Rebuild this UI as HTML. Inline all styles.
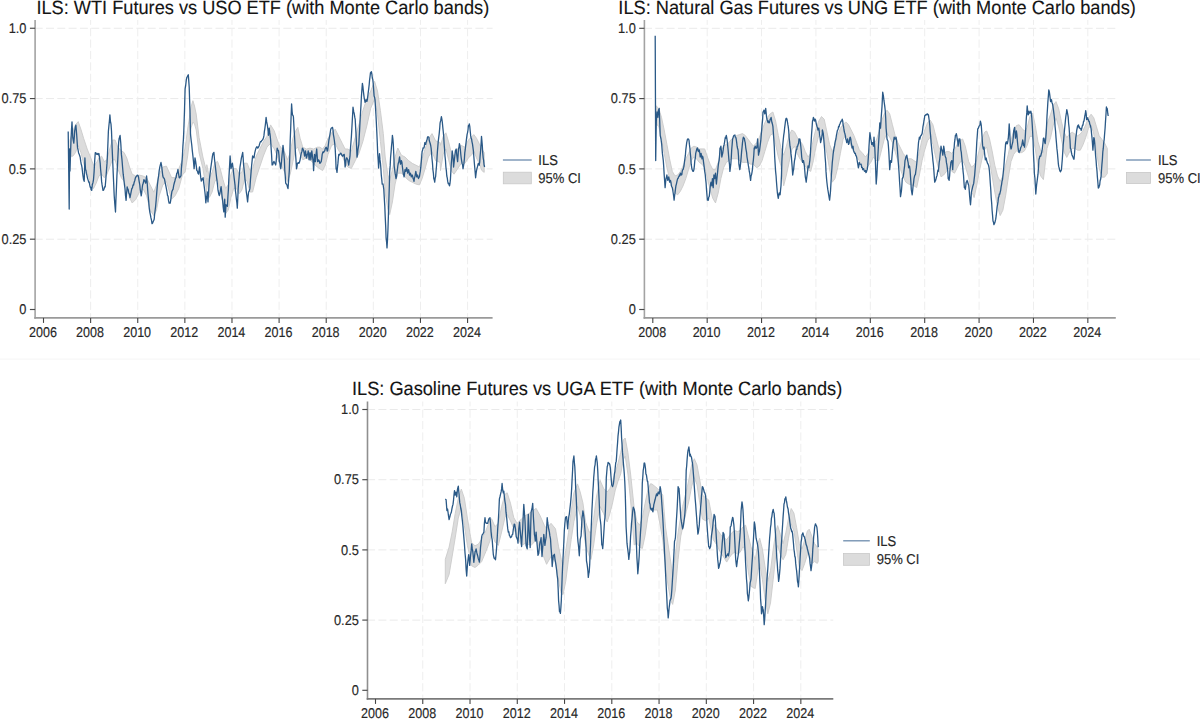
<!DOCTYPE html><html><head><meta charset="utf-8"><style>html,body{margin:0;padding:0;background:#fff;}svg{display:block}</style></head><body>
<svg width="1200" height="722" viewBox="0 0 1200 722" font-family="'Liberation Sans', sans-serif" text-rendering="geometricPrecision">
<rect width="1200" height="722" fill="#fff"/>
<rect x="0" y="358.5" width="1200" height="1.2" fill="#f7f7f7"/>
<g><line x1="36.1" y1="239.19" x2="492.6" y2="239.19" stroke="#eaeaea" stroke-width="1" stroke-dasharray="8 3.3" stroke-dashoffset="1.4"/><line x1="36.1" y1="168.88" x2="492.6" y2="168.88" stroke="#eaeaea" stroke-width="1" stroke-dasharray="8 3.3" stroke-dashoffset="1.4"/><line x1="36.1" y1="98.56" x2="492.6" y2="98.56" stroke="#eaeaea" stroke-width="1" stroke-dasharray="8 3.3" stroke-dashoffset="1.4"/><line x1="36.1" y1="28.25" x2="492.6" y2="28.25" stroke="#eaeaea" stroke-width="1" stroke-dasharray="8 3.3" stroke-dashoffset="1.4"/><line x1="90.62" y1="20.0" x2="90.62" y2="316.9" stroke="#eeeeee" stroke-width="1" stroke-dasharray="8.2 3.2" stroke-dashoffset="3.3"/><line x1="137.74" y1="20.0" x2="137.74" y2="316.9" stroke="#eeeeee" stroke-width="1" stroke-dasharray="8.2 3.2" stroke-dashoffset="3.3"/><line x1="184.86" y1="20.0" x2="184.86" y2="316.9" stroke="#eeeeee" stroke-width="1" stroke-dasharray="8.2 3.2" stroke-dashoffset="3.3"/><line x1="231.98" y1="20.0" x2="231.98" y2="316.9" stroke="#eeeeee" stroke-width="1" stroke-dasharray="8.2 3.2" stroke-dashoffset="3.3"/><line x1="279.10" y1="20.0" x2="279.10" y2="316.9" stroke="#eeeeee" stroke-width="1" stroke-dasharray="8.2 3.2" stroke-dashoffset="3.3"/><line x1="326.22" y1="20.0" x2="326.22" y2="316.9" stroke="#eeeeee" stroke-width="1" stroke-dasharray="8.2 3.2" stroke-dashoffset="3.3"/><line x1="373.34" y1="20.0" x2="373.34" y2="316.9" stroke="#eeeeee" stroke-width="1" stroke-dasharray="8.2 3.2" stroke-dashoffset="3.3"/><line x1="420.46" y1="20.0" x2="420.46" y2="316.9" stroke="#eeeeee" stroke-width="1" stroke-dasharray="8.2 3.2" stroke-dashoffset="3.3"/><line x1="467.58" y1="20.0" x2="467.58" y2="316.9" stroke="#eeeeee" stroke-width="1" stroke-dasharray="8.2 3.2" stroke-dashoffset="3.3"/><polygon points="70.1,140.0 72.8,131.0 75.5,124.7 78.2,121.6 80.9,129.2 83.6,138.2 87.2,149.0 90.8,158.0 93.5,165.2 96.2,163.4 98.9,158.0 101.6,156.2 104.3,161.6 107.0,159.8 109.7,149.0 112.4,140.0 115.1,140.0 117.8,147.2 121.4,150.8 124.1,152.6 126.8,158.0 129.5,167.0 132.2,174.2 135.8,176.0 139.4,175.1 143.0,176.0 146.6,177.8 150.2,185.0 153.8,192.2 156.5,185.0 159.2,174.2 162.8,167.0 166.4,166.1 171.6,177.6 175.2,177.6 178.8,168.6 182.4,160.0 185.1,148.0 187.8,128.0 189.4,118.0 191.0,107.0 192.9,100.7 194.5,106.0 196.2,114.0 199.1,137.5 202.9,157.0 206.7,172.2 206.8,164.7 209.4,177.6 212.1,172.2 214.8,163.2 217.5,161.4 220.2,168.6 222.9,179.4 225.6,188.4 228.3,184.8 231.0,174.0 233.7,168.6 236.4,168.6 239.1,174.0 241.8,172.2 244.5,163.2 247.2,163.2 249.9,170.4 252.6,168.6 256.2,156.0 259.8,148.8 263.4,141.6 267.0,136.2 270.6,124.9 274.2,130.8 276.7,138.2 279.4,145.4 282.1,149.0 284.8,152.6 287.5,159.8 290.2,152.6 292.9,138.2 295.6,131.0 297.8,127.4 300.1,138.2 302.8,147.2 306.4,149.0 310.0,148.1 313.6,149.0 317.2,147.2 319.9,147.2 322.6,149.0 325.3,145.4 328.0,138.2 331.6,132.8 335.2,129.2 338.8,136.4 342.4,143.6 345.1,149.0 347.8,149.0 351.3,151.1 355.2,137.5 359.1,124.0 362.9,110.4 366.8,98.8 370.7,91.0 374.6,81.3 377.5,91.0 380.4,110.4 383.3,133.6 385.2,157.0 387.9,175.0 389.7,180.4 392.4,169.6 395.1,157.0 397.8,148.0 401.4,155.2 405.0,157.0 408.6,160.6 412.2,163.3 415.8,165.1 419.4,166.9 422.1,158.8 424.8,149.8 428.4,139.0 432.0,133.6 435.6,140.8 440.1,142.6 440.5,145.4 443.2,136.4 445.9,132.8 448.6,141.8 451.3,152.6 454.0,156.2 457.6,149.0 461.2,145.4 464.8,147.2 468.4,140.0 472.0,136.4 473.8,134.6 476.5,138.2 479.2,143.6 481.9,149.0 484.2,152.6 484.2,172.4 481.9,170.6 479.2,163.4 476.5,158.0 473.8,150.8 472.0,154.4 468.4,158.0 464.8,163.4 461.2,163.4 457.6,168.8 454.0,174.2 451.3,170.6 448.6,159.8 445.9,149.0 443.2,154.4 440.5,170.6 440.1,162.4 435.6,160.6 432.0,151.6 428.4,157.0 424.8,169.6 422.1,178.6 419.4,184.9 415.8,184.0 412.2,182.2 408.6,180.4 405.0,176.8 401.4,173.2 397.8,173.2 395.1,184.0 392.4,202.0 389.7,214.6 387.9,209.2 385.2,193.0 383.3,168.5 380.4,141.4 377.5,114.3 374.6,98.8 370.7,108.4 366.8,125.9 362.9,141.4 359.1,153.0 355.2,160.8 351.3,168.5 347.8,167.0 345.1,163.4 342.4,156.2 338.8,150.8 335.2,143.6 331.6,145.4 328.0,154.4 325.3,165.2 322.6,170.6 319.9,168.8 317.2,167.0 313.6,163.4 310.0,159.8 306.4,158.0 302.8,159.8 300.1,154.4 297.8,147.2 295.6,149.0 292.9,161.6 290.2,174.2 287.5,181.4 284.8,172.4 282.1,167.0 279.4,163.4 276.7,154.4 274.2,148.8 270.6,143.4 267.0,147.0 263.4,156.0 259.8,166.8 256.2,177.6 252.6,192.0 249.9,192.0 247.2,181.2 244.5,179.4 241.8,190.2 239.1,193.8 236.4,188.4 233.7,188.4 231.0,197.4 228.3,210.0 225.6,213.6 222.9,202.8 220.2,190.2 217.5,179.4 214.8,181.2 212.1,192.0 209.4,197.4 206.8,178.0 206.7,192.0 202.9,168.5 199.1,153.0 196.2,130.0 194.5,124.0 192.9,122.0 191.0,128.0 189.4,141.0 187.8,155.0 185.1,172.0 182.4,175.0 178.8,188.4 175.2,195.6 171.6,199.2 166.4,181.4 162.8,185.0 159.2,195.8 156.5,210.2 153.8,215.6 150.2,210.2 146.6,195.8 143.0,188.6 139.4,192.2 135.8,199.4 132.2,203.0 129.5,197.6 126.8,188.6 124.1,181.4 121.4,177.8 117.8,168.8 115.1,159.8 112.4,159.8 109.7,167.0 107.0,174.2 104.3,177.8 101.6,174.2 98.9,176.0 96.2,183.2 93.5,188.6 90.8,183.2 87.2,172.4 83.6,163.4 80.9,152.6 78.2,145.4 75.5,152.6 72.8,156.2 70.1,156.2" fill="#dcdcdc" stroke="#cbcbcb" stroke-width="0.9"/><polyline points="68.2,131.5 68.7,169.4 69.2,209.0 69.6,148.8 70.0,171.0 70.6,151.5 71.1,137.7 71.5,129.6 72.0,121.8 72.8,137.7 73.3,140.6 73.8,143.2 74.2,138.5 74.7,130.8 75.3,127.5 75.9,125.2 76.7,135.0 77.5,147.4 78.0,149.5 78.6,152.9 79.2,154.3 79.7,155.7 80.2,157.4 80.7,161.2 81.2,164.1 81.6,165.3 82.1,168.2 82.6,172.9 83.0,175.9 83.5,179.2 84.2,181.3 84.9,157.8 85.5,169.6 86.0,170.5 86.4,173.4 86.9,175.1 87.4,177.6 87.8,179.1 88.3,180.6 88.8,182.4 89.2,182.0 89.7,184.8 90.2,187.0 90.6,186.9 91.1,189.6 91.7,190.4 92.3,184.8 92.9,182.9 93.5,179.6 94.1,171.9 94.7,160.8 95.3,152.6 95.9,152.8 96.5,154.1 97.1,154.4 97.7,153.5 98.3,154.7 98.9,153.5 99.5,157.7 100.2,163.4 100.6,169.3 101.1,174.2 101.6,181.4 102.1,184.9 102.6,187.8 103.0,190.4 103.6,190.1 104.1,188.8 104.7,186.7 105.2,186.8 105.8,179.5 106.4,171.4 107.0,163.4 107.5,153.5 108.0,141.4 108.4,131.0 108.9,125.8 109.4,121.1 109.9,114.8 110.4,121.1 111.0,124.1 111.5,131.0 112.1,147.6 112.8,163.4 113.2,172.9 113.7,184.2 114.2,195.8 114.8,203.9 115.5,212.0 115.9,200.0 116.4,188.6 116.9,176.0 117.5,165.0 118.1,153.1 118.7,141.8 119.2,138.2 119.7,137.1 120.1,135.5 120.8,143.5 121.4,154.4 122.0,159.9 122.6,167.5 123.2,174.2 123.8,179.0 124.4,184.3 125.0,188.6 125.5,195.5 126.1,200.3 126.6,193.0 127.2,186.8 127.6,189.3 128.1,189.1 128.6,192.2 129.1,193.7 129.6,194.5 130.0,197.6 130.6,194.7 131.2,191.7 131.8,188.6 132.4,188.1 133.0,185.0 133.6,185.0 134.2,182.2 134.8,180.5 135.4,177.8 136.1,176.7 136.7,176.0 137.3,175.2 137.9,175.3 138.5,176.9 139.1,181.1 139.8,185.0 140.2,189.3 140.7,192.1 141.2,195.8 141.7,192.9 142.2,188.0 142.6,185.0 143.3,183.0 143.9,179.6 144.5,180.5 145.1,181.8 145.7,183.2 146.2,179.0 146.6,176.0 147.1,181.7 147.6,188.7 148.0,194.0 148.6,200.4 149.2,207.8 149.8,212.0 150.4,214.8 150.9,217.7 151.5,220.1 152.0,223.7 152.5,223.3 153.1,221.7 153.6,220.7 154.2,219.2 154.6,214.5 155.1,210.5 155.6,206.6 156.2,199.8 156.8,192.0 157.4,185.0 158.0,179.9 158.6,175.9 159.2,170.6 159.8,167.1 160.4,164.7 161.0,162.5 161.6,165.6 162.2,170.8 162.8,176.0 163.4,177.7 164.0,178.1 164.6,179.6 165.2,182.8 165.8,185.7 166.4,188.6 167.0,192.0 167.5,195.4 168.0,196.2 168.6,200.9 169.1,203.0 169.6,203.0 170.2,203.2 170.7,200.3 171.3,195.5 171.9,191.6 172.5,190.2 173.1,189.2 173.7,185.3 174.3,183.0 174.9,181.0 175.5,178.4 176.1,177.6 176.7,173.5 177.3,172.9 177.9,169.5 178.5,173.4 179.2,177.6 179.8,177.8 180.4,176.5 181.0,175.8 181.4,168.4 181.9,163.1 182.4,156.0 182.9,146.1 183.4,139.4 183.8,130.8 184.5,110.6 185.1,88.8 185.7,85.3 186.3,79.9 186.9,77.1 187.4,76.6 187.9,75.4 188.3,74.8 188.8,81.4 189.2,87.0 190.0,112.2 190.5,134.4 191.1,139.7 191.7,144.5 192.3,150.6 192.9,155.9 193.5,161.8 194.1,168.6 194.6,163.5 195.0,157.8 195.6,161.2 196.2,165.4 196.8,170.4 197.4,170.9 198.0,173.3 198.6,174.0 199.1,170.2 199.5,166.8 200.1,171.6 200.7,177.4 201.3,181.2 201.9,179.0 202.5,179.7 203.1,177.6 203.7,182.6 204.3,187.2 204.9,192.0 205.4,196.7 205.8,202.8 206.3,198.8 206.8,196.5 207.2,192.0 208.0,201.9 208.4,194.9 208.9,187.1 209.4,179.4 210.0,174.4 210.6,169.3 211.2,165.0 211.8,160.9 212.4,156.4 213.0,153.3 213.5,153.1 213.9,152.4 214.5,159.3 215.2,165.0 215.6,168.6 216.1,173.2 216.6,177.6 217.1,181.3 217.6,185.8 218.0,190.2 218.7,193.7 219.3,195.6 219.9,193.1 220.5,189.7 221.1,186.6 221.6,191.4 222.0,195.6 222.6,200.3 223.2,207.2 223.8,211.8 224.3,205.9 224.7,199.2 225.2,217.2 226.0,204.6 226.4,205.8 226.9,205.9 227.4,206.4 227.9,196.7 228.4,189.5 228.8,179.4 229.5,167.3 230.1,156.0 230.6,162.1 231.0,168.6 231.5,166.6 232.0,164.3 232.4,163.2 233.1,168.4 233.7,174.0 234.3,179.1 235.0,184.8 235.4,190.6 235.9,194.5 236.4,199.2 236.9,203.0 237.3,208.2 237.8,198.2 238.2,188.4 238.8,180.8 239.4,173.9 240.0,166.8 240.5,163.9 241.0,160.7 241.4,157.8 242.1,155.1 242.7,152.4 243.2,158.5 243.6,165.0 244.1,169.4 244.6,174.8 245.0,179.4 245.7,185.2 246.3,192.0 246.9,195.9 247.6,201.9 248.1,196.6 248.6,192.0 249.3,190.8 249.9,188.4 250.5,179.2 251.2,170.4 251.6,165.8 252.1,160.9 252.6,156.0 253.1,156.4 253.6,157.7 254.0,157.8 254.7,153.2 255.3,150.6 255.9,148.3 256.6,147.0 257.0,146.6 257.5,148.1 258.0,147.9 258.6,146.9 259.2,145.5 259.8,143.4 260.4,141.6 261.0,141.9 261.6,140.7 262.2,140.2 262.8,139.5 263.4,138.0 263.9,135.9 264.4,131.4 264.8,129.0 265.5,123.6 266.1,117.3 266.7,121.9 267.4,125.4 267.9,129.3 268.5,135.3 269.2,128.1 269.7,132.2 270.1,134.9 270.6,139.8 271.1,147.7 271.6,155.4 272.1,165.0 272.7,164.7 273.3,162.8 273.9,161.4 274.5,162.6 275.1,163.6 275.7,165.0 276.2,160.8 276.7,153.6 277.2,148.1 277.9,150.2 278.5,150.8 279.0,155.6 279.4,161.6 279.9,163.0 280.4,167.4 280.8,168.8 281.5,161.8 282.1,154.4 282.6,149.8 283.0,145.4 283.5,149.3 283.9,154.4 284.4,160.4 284.8,170.6 285.3,176.6 285.7,183.2 286.3,184.0 287.0,185.0 287.5,187.0 288.0,188.6 288.7,179.3 289.3,170.6 289.8,155.4 290.2,140.0 290.7,128.3 291.1,116.6 291.6,104.0 292.1,111.2 292.5,114.8 293.0,115.5 293.4,116.6 294.2,131.0 294.7,139.5 295.2,149.0 295.9,158.7 296.5,168.8 297.0,166.5 297.4,163.4 297.9,163.0 298.4,162.6 298.8,163.4 299.5,162.1 300.1,159.8 300.7,156.0 301.4,152.6 301.9,151.7 302.4,148.1 303.1,149.2 303.7,150.8 304.2,153.7 304.6,156.2 305.1,153.7 305.5,150.8 306.0,155.0 306.4,158.0 306.9,156.7 307.3,154.4 307.8,153.5 308.2,150.8 308.7,155.5 309.1,159.8 309.6,155.8 310.0,152.6 310.5,156.6 310.9,159.8 311.4,154.0 311.8,150.8 312.3,154.8 312.7,158.0 313.2,162.3 313.6,170.6 314.1,160.9 314.5,154.4 315.0,157.4 315.4,161.6 316.0,154.7 316.7,149.0 317.1,154.3 317.6,161.6 318.1,161.4 318.6,159.8 319.3,161.0 319.9,163.4 320.5,162.6 321.2,161.6 321.7,158.6 322.2,154.4 322.9,151.9 323.5,152.6 324.1,151.4 324.8,150.8 325.2,148.7 325.7,147.8 326.2,147.2 326.7,148.7 327.2,151.0 327.6,150.8 328.3,145.3 328.9,140.0 329.5,137.2 330.2,132.8 330.7,129.5 331.2,128.3 331.9,127.8 332.5,127.4 333.0,129.9 333.4,134.6 333.9,137.4 334.3,140.0 334.8,144.2 335.2,149.0 335.7,158.4 336.1,168.8 336.6,169.9 337.0,172.4 337.5,167.0 337.9,163.4 338.4,157.6 338.8,154.4 339.3,155.0 339.8,154.5 340.2,153.5 340.9,153.2 341.5,154.4 342.1,155.7 342.8,156.2 343.2,154.9 343.7,155.4 344.2,154.4 344.7,160.7 345.1,167.0 345.6,164.4 346.0,159.8 346.5,157.9 346.9,158.0 347.4,159.0 347.8,159.8 348.3,162.9 348.7,165.2 349.3,161.2 350.0,156.2 350.4,149.3 350.9,142.7 351.4,136.4 352.0,125.7 352.7,113.0 353.0,107.2 353.7,111.7 354.3,114.0 354.8,117.4 355.2,119.4 355.7,128.6 356.1,135.6 356.6,146.4 357.0,157.2 357.5,154.6 357.9,150.0 358.4,146.8 358.8,144.6 359.3,135.3 359.7,128.4 360.3,116.2 361.0,105.0 361.4,96.8 361.9,89.6 362.4,83.4 362.9,86.5 363.3,90.6 363.8,94.9 364.2,97.8 364.7,100.5 365.1,102.3 365.6,100.8 366.0,99.6 366.5,101.2 366.9,101.4 367.4,99.3 367.8,96.0 368.3,91.8 368.7,88.8 369.2,84.5 369.6,79.8 370.1,76.0 370.5,72.6 371.0,72.1 371.4,71.7 371.9,74.3 372.3,78.0 372.8,79.6 373.2,83.4 373.7,90.4 374.1,96.0 374.6,97.4 375.0,99.6 375.5,107.5 375.9,114.0 376.4,123.6 376.8,132.0 377.3,143.2 377.7,153.6 378.2,160.4 378.6,168.0 379.1,160.0 379.5,153.6 380.0,159.9 380.4,162.6 380.9,168.7 381.3,175.2 381.8,179.7 382.2,184.2 382.6,184.2 383.0,184.0 383.8,189.4 384.3,198.4 384.8,206.4 385.2,216.4 385.7,226.6 386.1,238.0 386.6,242.2 387.0,247.9 387.5,239.6 387.9,230.8 388.4,216.0 388.8,202.0 389.3,186.7 389.7,171.4 390.2,165.4 390.6,157.0 391.1,151.6 391.5,146.2 392.0,141.2 392.4,135.4 392.9,139.1 393.3,144.4 393.8,155.1 394.2,166.0 394.7,169.9 395.1,173.2 395.6,175.8 396.0,178.6 396.5,176.7 396.9,173.2 397.4,169.7 397.8,166.0 398.3,163.1 398.7,162.4 399.2,159.0 399.6,157.0 400.1,161.1 400.5,164.2 401.0,162.5 401.4,160.6 401.9,162.1 402.3,166.0 402.8,169.9 403.2,173.2 403.7,174.9 404.1,176.8 404.6,173.2 405.0,169.6 405.5,171.4 405.9,171.4 406.4,168.1 406.8,167.8 407.3,170.3 407.7,173.2 408.2,171.3 408.6,169.6 409.1,172.0 409.5,175.0 410.0,174.9 410.4,173.2 410.9,174.8 411.3,176.8 411.8,176.1 412.2,175.0 412.7,176.5 413.1,178.6 413.6,179.5 414.0,181.3 414.5,177.6 414.9,176.8 415.4,173.5 415.8,171.4 416.3,173.8 416.7,176.8 417.2,176.0 417.6,175.0 418.1,177.6 418.5,178.6 419.0,177.3 419.4,176.8 419.9,173.7 420.3,171.4 420.8,167.2 421.2,162.4 421.7,156.5 422.1,151.6 422.6,150.3 423.0,148.0 423.5,148.2 423.9,148.0 424.4,146.0 424.8,142.6 425.3,143.4 425.7,144.4 426.2,142.2 426.6,140.8 427.1,139.6 427.5,137.2 428.0,136.6 428.4,137.2 428.9,137.3 429.3,140.8 429.8,142.3 430.2,143.5 430.7,145.5 431.1,148.0 431.6,153.5 432.0,158.8 432.5,163.5 432.9,169.6 433.4,173.4 433.8,178.6 434.3,180.0 434.7,182.2 435.2,177.9 435.6,176.8 436.1,170.5 436.5,166.0 437.0,157.9 437.4,151.6 437.9,145.6 438.3,140.8 438.8,136.9 439.2,133.6 439.7,128.4 440.1,122.8 440.8,120.2 441.4,116.6 441.9,119.3 442.3,122.0 442.8,127.4 443.2,131.0 443.7,136.3 444.1,143.6 444.6,149.5 445.0,156.2 445.5,160.8 445.9,167.0 446.4,171.1 446.8,176.0 447.3,178.2 447.7,181.4 448.2,183.5 448.6,183.2 449.1,184.7 449.5,185.9 450.0,183.3 450.4,179.6 450.9,170.9 451.3,163.4 451.8,157.7 452.2,150.8 452.7,154.9 453.1,158.0 453.6,167.0 454.4,159.8 454.9,155.2 455.4,150.8 456.2,149.0 456.9,156.2 457.6,161.6 458.1,155.4 458.5,149.0 459.0,147.1 459.4,143.6 459.9,145.4 460.3,149.0 460.8,154.5 461.2,158.0 461.7,161.1 462.1,163.4 462.6,165.2 463.0,168.8 463.5,165.9 463.9,163.4 464.4,158.8 464.8,152.6 465.3,149.2 465.7,145.4 466.2,141.3 466.6,138.2 467.1,134.3 467.5,132.8 468.0,130.0 468.4,125.6 468.9,125.7 469.3,123.8 469.8,126.6 470.2,131.0 470.7,135.9 471.1,138.2 471.6,139.0 472.0,141.8 472.5,144.1 472.9,147.2 473.4,150.9 473.8,156.2 474.3,162.5 474.7,167.0 475.2,172.7 475.6,177.8 476.1,173.4 476.5,170.6 477.0,168.4 477.4,167.0 477.9,164.9 478.3,163.4 478.8,164.7 479.2,165.2 479.7,162.1 480.1,156.2 480.6,150.7 481.0,145.4 481.5,136.4 482.3,145.4 482.7,152.8 483.2,158.0 483.6,160.1 484.1,165.2 484.6,167.0" fill="none" stroke="#2a5987" stroke-width="1.3" stroke-linejoin="round"/><line x1="35.1" y1="20.0" x2="35.1" y2="318.7" stroke="#a3a3a3" stroke-width="1.6"/><line x1="34.3" y1="317.9" x2="492.6" y2="317.9" stroke="#9a9a9a" stroke-width="1.6"/><line x1="29.9" y1="309.50" x2="35.1" y2="309.50" stroke="#4a4a4a" stroke-width="1.15"/><text transform="translate(26.5,314.25) scale(0.985,1.09)" font-size="13" text-anchor="end" fill="#262626" stroke="#262626" stroke-width="0.15">0</text><line x1="29.9" y1="239.19" x2="35.1" y2="239.19" stroke="#4a4a4a" stroke-width="1.15"/><text transform="translate(26.5,243.94) scale(0.985,1.09)" font-size="13" text-anchor="end" fill="#262626" stroke="#262626" stroke-width="0.15">0.25</text><line x1="29.9" y1="168.88" x2="35.1" y2="168.88" stroke="#4a4a4a" stroke-width="1.15"/><text transform="translate(26.5,173.62) scale(0.985,1.09)" font-size="13" text-anchor="end" fill="#262626" stroke="#262626" stroke-width="0.15">0.5</text><line x1="29.9" y1="98.56" x2="35.1" y2="98.56" stroke="#4a4a4a" stroke-width="1.15"/><text transform="translate(26.5,103.31) scale(0.985,1.09)" font-size="13" text-anchor="end" fill="#262626" stroke="#262626" stroke-width="0.15">0.75</text><line x1="29.9" y1="28.25" x2="35.1" y2="28.25" stroke="#4a4a4a" stroke-width="1.15"/><text transform="translate(26.5,33.00) scale(0.985,1.09)" font-size="13" text-anchor="end" fill="#262626" stroke="#262626" stroke-width="0.15">1.0</text><line x1="43.50" y1="317.9" x2="43.50" y2="322.9" stroke="#444" stroke-width="1.1"/><text transform="translate(42.90,337.30) scale(0.965,1.09)" font-size="13" text-anchor="middle" fill="#262626" stroke="#262626" stroke-width="0.15">2006</text><line x1="90.62" y1="317.9" x2="90.62" y2="322.9" stroke="#444" stroke-width="1.1"/><text transform="translate(90.02,337.30) scale(0.965,1.09)" font-size="13" text-anchor="middle" fill="#262626" stroke="#262626" stroke-width="0.15">2008</text><line x1="137.74" y1="317.9" x2="137.74" y2="322.9" stroke="#444" stroke-width="1.1"/><text transform="translate(137.14,337.30) scale(0.965,1.09)" font-size="13" text-anchor="middle" fill="#262626" stroke="#262626" stroke-width="0.15">2010</text><line x1="184.86" y1="317.9" x2="184.86" y2="322.9" stroke="#444" stroke-width="1.1"/><text transform="translate(184.26,337.30) scale(0.965,1.09)" font-size="13" text-anchor="middle" fill="#262626" stroke="#262626" stroke-width="0.15">2012</text><line x1="231.98" y1="317.9" x2="231.98" y2="322.9" stroke="#444" stroke-width="1.1"/><text transform="translate(231.38,337.30) scale(0.965,1.09)" font-size="13" text-anchor="middle" fill="#262626" stroke="#262626" stroke-width="0.15">2014</text><line x1="279.10" y1="317.9" x2="279.10" y2="322.9" stroke="#444" stroke-width="1.1"/><text transform="translate(278.50,337.30) scale(0.965,1.09)" font-size="13" text-anchor="middle" fill="#262626" stroke="#262626" stroke-width="0.15">2016</text><line x1="326.22" y1="317.9" x2="326.22" y2="322.9" stroke="#444" stroke-width="1.1"/><text transform="translate(325.62,337.30) scale(0.965,1.09)" font-size="13" text-anchor="middle" fill="#262626" stroke="#262626" stroke-width="0.15">2018</text><line x1="373.34" y1="317.9" x2="373.34" y2="322.9" stroke="#444" stroke-width="1.1"/><text transform="translate(372.74,337.30) scale(0.965,1.09)" font-size="13" text-anchor="middle" fill="#262626" stroke="#262626" stroke-width="0.15">2020</text><line x1="420.46" y1="317.9" x2="420.46" y2="322.9" stroke="#444" stroke-width="1.1"/><text transform="translate(419.86,337.30) scale(0.965,1.09)" font-size="13" text-anchor="middle" fill="#262626" stroke="#262626" stroke-width="0.15">2022</text><line x1="467.58" y1="317.9" x2="467.58" y2="322.9" stroke="#444" stroke-width="1.1"/><text transform="translate(466.98,337.30) scale(0.965,1.09)" font-size="13" text-anchor="middle" fill="#262626" stroke="#262626" stroke-width="0.15">2024</text><text transform="translate(262.8,14.25) scale(1,1.06)" font-size="18.2" text-anchor="middle" fill="#141414" stroke="#141414" stroke-width="0.12">ILS: WTI Futures vs USO ETF (with Monte Carlo bands)</text><line x1="502.9" y1="160.0" x2="531.7" y2="160.0" stroke="#6d8cad" stroke-width="1.3"/><rect x="503.3" y="172.2" width="28.0" height="11.6" fill="#dcdcdc" stroke="#c8c8c8" stroke-width="0.8"/><text transform="translate(538.3,164.8) scale(1,1.1)" font-size="13" fill="#262626" stroke="#262626" stroke-width="0.15">ILS</text><text transform="translate(538.3,182.9) scale(1,1.1)" font-size="13" fill="#262626" stroke="#262626" stroke-width="0.15">95% CI</text></g>
<g><line x1="645.4" y1="239.20" x2="1115.8" y2="239.20" stroke="#eaeaea" stroke-width="1" stroke-dasharray="8 3.3" stroke-dashoffset="1.4"/><line x1="645.4" y1="168.90" x2="1115.8" y2="168.90" stroke="#eaeaea" stroke-width="1" stroke-dasharray="8 3.3" stroke-dashoffset="1.4"/><line x1="645.4" y1="98.60" x2="1115.8" y2="98.60" stroke="#eaeaea" stroke-width="1" stroke-dasharray="8 3.3" stroke-dashoffset="1.4"/><line x1="645.4" y1="28.30" x2="1115.8" y2="28.30" stroke="#eaeaea" stroke-width="1" stroke-dasharray="8 3.3" stroke-dashoffset="1.4"/><line x1="707.18" y1="20.0" x2="707.18" y2="316.9" stroke="#eeeeee" stroke-width="1" stroke-dasharray="8.2 3.2" stroke-dashoffset="3.3"/><line x1="761.56" y1="20.0" x2="761.56" y2="316.9" stroke="#eeeeee" stroke-width="1" stroke-dasharray="8.2 3.2" stroke-dashoffset="3.3"/><line x1="815.94" y1="20.0" x2="815.94" y2="316.9" stroke="#eeeeee" stroke-width="1" stroke-dasharray="8.2 3.2" stroke-dashoffset="3.3"/><line x1="870.32" y1="20.0" x2="870.32" y2="316.9" stroke="#eeeeee" stroke-width="1" stroke-dasharray="8.2 3.2" stroke-dashoffset="3.3"/><line x1="924.70" y1="20.0" x2="924.70" y2="316.9" stroke="#eeeeee" stroke-width="1" stroke-dasharray="8.2 3.2" stroke-dashoffset="3.3"/><line x1="979.08" y1="20.0" x2="979.08" y2="316.9" stroke="#eeeeee" stroke-width="1" stroke-dasharray="8.2 3.2" stroke-dashoffset="3.3"/><line x1="1033.46" y1="20.0" x2="1033.46" y2="316.9" stroke="#eeeeee" stroke-width="1" stroke-dasharray="8.2 3.2" stroke-dashoffset="3.3"/><line x1="1087.84" y1="20.0" x2="1087.84" y2="316.9" stroke="#eeeeee" stroke-width="1" stroke-dasharray="8.2 3.2" stroke-dashoffset="3.3"/><polygon points="655.9,105.7 658.8,108.4 661.5,117.4 664.2,130.0 666.9,144.4 669.6,158.8 672.3,171.4 675.0,175.9 677.7,175.0 680.4,171.4 683.1,166.0 685.8,158.8 688.5,153.4 691.2,148.0 693.9,146.2 696.6,147.1 699.3,148.9 702.0,148.9 704.7,148.9 707.4,157.0 710.1,164.2 712.8,169.6 715.5,169.6 718.2,162.4 720.9,151.6 723.6,146.2 726.3,144.4 729.0,142.6 731.7,139.0 734.4,137.2 737.1,135.4 739.8,134.5 742.5,133.6 745.2,135.4 747.9,139.0 750.6,142.6 753.3,146.2 756.7,142.6 759.4,137.2 762.1,130.0 764.8,122.8 767.5,117.4 770.2,113.8 772.9,112.0 775.6,121.0 778.3,135.4 781.0,148.0 783.7,155.2 786.4,146.2 789.1,135.4 791.8,130.0 794.5,131.8 797.2,137.2 799.9,140.8 802.6,144.4 805.3,151.6 808.0,157.0 810.7,153.4 813.4,139.0 816.1,128.2 818.8,121.0 821.5,116.5 824.2,119.2 826.9,131.8 829.6,144.4 832.3,151.6 835.0,144.4 837.7,135.4 840.4,128.2 843.1,124.6 845.8,121.9 848.5,124.6 851.2,130.0 853.9,135.4 856.6,142.6 859.3,149.8 862.7,153.4 865.4,157.0 868.1,153.4 870.8,146.2 873.5,142.6 876.2,140.8 878.9,131.8 881.6,121.0 884.3,113.8 887.0,110.2 889.7,113.8 892.4,124.6 895.1,135.4 897.8,142.6 900.5,148.0 903.2,153.4 905.9,157.0 908.6,158.8 911.3,158.8 914.0,160.6 916.7,162.4 919.4,151.6 922.1,139.0 924.8,130.0 927.5,122.8 930.2,120.1 932.9,124.6 935.6,135.4 938.3,146.2 941.0,151.6 943.7,153.4 946.4,151.6 949.1,151.6 951.8,153.4 954.5,149.8 957.2,144.4 959.9,140.8 962.6,139.0 965.3,146.2 968.7,161.6 971.4,167.0 974.1,165.2 976.8,159.8 979.5,149.0 982.2,138.2 984.9,131.9 986.7,131.0 989.4,138.2 992.1,150.8 994.8,165.2 997.5,176.0 1000.2,181.4 1002.9,176.0 1005.6,165.2 1008.3,154.4 1011.0,140.0 1013.7,131.0 1016.4,125.6 1019.1,124.7 1021.8,128.3 1024.5,131.0 1027.2,127.4 1029.9,116.6 1032.6,113.0 1035.3,125.6 1038.0,141.8 1040.7,150.8 1043.4,152.6 1047.0,124.1 1050.6,114.2 1053.3,105.2 1056.0,101.6 1058.7,108.8 1061.4,121.4 1064.1,132.2 1066.8,137.6 1069.5,134.0 1072.2,132.2 1074.9,134.0 1077.6,135.8 1080.3,134.0 1083.0,130.4 1085.7,125.0 1088.4,117.8 1091.1,114.2 1093.8,117.8 1096.5,126.8 1099.2,135.8 1101.9,139.4 1104.6,143.0 1107.3,148.4 1107.3,173.6 1104.6,177.2 1101.9,177.2 1099.2,168.2 1096.5,152.0 1093.8,134.0 1091.1,125.0 1088.4,128.6 1085.7,137.6 1083.0,144.8 1080.3,150.2 1077.6,150.2 1074.9,148.4 1072.2,148.4 1069.5,152.0 1066.8,157.4 1064.1,152.0 1061.4,139.4 1058.7,126.8 1056.0,117.8 1053.3,125.0 1050.6,137.6 1047.0,148.4 1043.4,179.6 1040.7,176.0 1038.0,167.0 1035.3,149.0 1032.6,136.4 1029.9,136.4 1027.2,145.4 1024.5,150.8 1021.8,152.6 1019.1,152.6 1016.4,150.8 1013.7,154.4 1011.0,161.6 1008.3,177.8 1005.6,195.8 1002.9,210.2 1000.2,215.6 997.5,206.6 994.8,192.2 992.1,176.0 989.4,159.8 986.7,147.2 984.9,149.0 982.2,158.0 979.5,170.6 976.8,185.0 974.1,197.6 971.4,190.4 968.7,177.8 965.3,166.0 962.6,160.6 959.9,162.4 957.2,167.8 954.5,173.2 951.8,171.4 949.1,167.8 946.4,171.4 943.7,175.0 941.0,176.8 938.3,167.8 935.6,157.0 932.9,144.4 930.2,137.2 927.5,140.8 924.8,149.8 922.1,160.6 919.4,175.0 916.7,187.6 914.0,185.8 911.3,184.9 908.6,184.0 905.9,182.2 903.2,176.8 900.5,169.6 897.8,160.6 895.1,151.6 892.4,142.6 889.7,137.2 887.0,133.6 884.3,139.0 881.6,149.8 878.9,160.6 876.2,160.6 873.5,157.0 870.8,162.4 868.1,166.0 865.4,169.6 862.7,166.0 859.3,160.6 856.6,157.0 853.9,151.6 851.2,146.2 848.5,140.8 845.8,135.4 843.1,139.0 840.4,153.4 837.7,167.8 835.0,178.6 832.3,182.2 829.6,169.6 826.9,153.4 824.2,139.0 821.5,130.0 818.8,135.4 816.1,146.2 813.4,160.6 810.7,171.4 808.0,169.6 805.3,166.0 802.6,162.4 799.9,158.8 797.2,153.4 794.5,146.2 791.8,149.8 789.1,162.4 786.4,175.0 783.7,185.8 781.0,166.0 778.3,157.0 775.6,144.4 772.9,133.6 770.2,135.4 767.5,142.6 764.8,151.6 762.1,160.6 759.4,166.0 756.7,167.8 753.3,164.2 750.6,164.2 747.9,162.4 745.2,162.4 742.5,162.4 739.8,160.6 737.1,158.8 734.4,158.8 731.7,158.8 729.0,160.6 726.3,162.4 723.6,167.8 720.9,178.6 718.2,193.0 715.5,202.9 712.8,198.4 710.1,189.4 707.4,178.6 704.7,167.8 702.0,164.2 699.3,162.4 696.6,158.8 693.9,157.0 691.2,160.6 688.5,169.6 685.8,178.6 683.1,185.8 680.4,191.2 677.7,194.8 675.0,193.0 672.3,187.6 669.6,178.6 666.9,167.8 664.2,153.4 661.5,139.0 658.8,126.4 655.9,123.7" fill="#dcdcdc" stroke="#cbcbcb" stroke-width="0.9"/><polyline points="655.2,35.7 655.7,160.6 656.3,121.0 657.0,112.0 657.5,116.1 657.9,117.4 658.4,110.2 659.2,108.4 659.7,121.0 660.2,135.4 661.0,139.0 661.7,144.4 662.4,153.4 662.9,157.5 663.3,160.6 663.8,167.9 664.2,175.0 664.7,181.8 665.1,187.6 665.6,182.1 666.0,178.6 666.5,176.8 666.9,175.0 667.4,178.3 667.8,180.4 668.3,178.6 668.7,176.8 669.2,179.1 669.6,182.2 670.1,181.4 670.5,180.4 671.0,182.6 671.4,185.8 671.9,187.0 672.3,187.6 672.8,190.5 673.2,193.0 673.7,196.5 674.1,200.2 674.6,195.7 675.0,193.0 675.5,188.9 675.9,185.8 676.4,184.1 676.8,182.2 677.3,179.9 677.7,178.6 678.2,178.2 678.6,176.8 679.1,176.5 679.5,175.0 680.0,175.5 680.4,173.2 680.9,174.0 681.3,175.0 681.8,174.7 682.2,171.4 682.7,169.6 683.1,169.6 683.6,167.7 684.0,166.0 684.5,161.6 684.9,158.8 685.4,155.2 685.8,149.8 686.3,145.9 686.7,142.6 687.2,140.3 687.6,139.0 688.1,139.2 688.5,139.0 689.0,140.2 689.4,144.4 689.9,148.3 690.3,153.4 690.8,157.9 691.2,164.2 691.7,167.6 692.1,169.6 692.6,170.5 693.0,171.4 693.5,171.1 693.9,169.6 694.4,165.6 694.8,160.6 695.3,158.2 695.7,153.4 696.2,151.4 696.6,149.8 697.1,148.3 697.5,148.0 698.0,150.5 698.4,151.6 698.9,149.9 699.3,149.8 699.8,153.3 700.2,157.0 700.7,155.1 701.1,153.4 701.6,156.6 702.0,158.8 702.5,156.2 702.9,157.0 703.4,161.1 703.8,164.2 704.3,167.9 704.7,171.4 705.2,174.3 705.6,178.6 706.1,183.2 706.5,189.4 707.0,195.5 707.4,200.2 707.9,199.6 708.3,200.2 708.8,196.9 709.2,196.6 709.7,192.3 710.1,187.6 710.6,183.8 711.0,182.2 711.5,184.0 711.9,185.8 712.4,178.6 713.2,187.6 713.9,175.0 714.6,178.6 715.1,175.9 715.5,173.2 716.0,179.8 716.4,184.0 716.9,179.0 717.3,175.0 717.8,170.1 718.2,166.0 718.7,162.3 719.1,160.6 719.6,155.0 720.0,148.0 720.5,147.7 720.9,146.2 721.4,150.9 721.8,157.0 722.3,154.8 722.7,153.4 723.2,149.9 723.6,146.2 724.1,144.7 724.5,142.6 725.0,139.2 725.4,137.2 725.9,138.2 726.3,135.4 726.8,138.1 727.2,140.8 727.7,145.7 728.1,149.8 728.6,156.0 729.0,160.6 729.5,164.5 729.9,171.4 730.4,167.3 730.8,164.2 731.3,157.4 731.7,149.8 732.2,144.0 732.6,139.0 733.1,137.6 733.5,136.3 734.0,135.4 734.4,135.4 734.9,135.0 735.3,137.2 735.8,137.3 736.2,139.0 736.7,142.6 737.1,146.2 737.6,148.8 738.0,149.8 738.5,156.0 738.9,164.2 739.4,167.5 739.8,169.6 740.3,166.3 740.7,162.4 741.2,156.9 741.6,151.6 742.1,146.9 742.5,142.6 743.0,138.9 743.4,137.2 743.9,138.1 744.3,138.1 744.8,141.1 745.2,142.6 745.7,147.3 746.1,149.8 746.6,152.7 747.0,157.0 747.5,160.0 747.9,162.4 748.4,165.7 748.8,167.8 749.3,171.5 749.7,173.2 750.2,177.5 750.6,180.4 751.1,175.8 751.5,175.0 752.0,172.3 752.4,169.6 752.9,163.7 753.3,160.6 753.8,155.0 754.2,148.0 754.7,148.9 755.1,146.2 755.6,147.0 756.2,148.1 756.7,148.0 757.2,144.9 757.6,139.0 758.1,146.2 758.5,155.2 759.0,152.6 759.4,151.6 759.9,147.6 760.3,144.4 760.8,140.7 761.2,135.4 761.7,129.6 762.1,124.6 762.6,119.7 763.0,112.0 763.5,111.9 763.9,110.2 764.4,112.0 764.8,113.8 765.3,110.3 765.7,108.4 766.2,113.2 766.6,117.4 767.1,119.5 767.5,121.0 768.0,122.5 768.4,121.0 768.9,122.9 769.3,122.8 769.8,121.0 770.2,119.2 770.7,118.6 771.1,117.4 771.6,120.7 772.0,122.8 772.5,124.3 772.9,126.4 773.4,133.2 773.8,139.0 774.3,147.1 774.7,157.0 775.2,165.1 775.6,171.4 776.1,176.3 776.5,182.2 777.0,188.4 777.4,193.0 777.9,196.3 778.3,198.4 778.8,195.0 779.2,193.0 779.7,194.2 780.1,194.8 780.6,189.5 781.0,185.8 781.5,174.6 781.9,160.6 782.4,151.9 782.8,144.4 783.3,139.3 783.7,135.4 784.2,132.1 784.6,128.2 785.1,124.3 785.5,121.0 786.0,118.6 786.4,118.3 786.9,119.0 787.3,121.0 787.8,124.2 788.2,126.4 788.7,130.6 789.1,137.2 789.6,141.9 790.0,146.2 790.5,148.8 790.9,153.4 791.4,156.9 791.8,162.4 792.3,168.8 792.7,175.0 793.2,171.4 793.6,169.6 794.1,164.4 794.5,160.6 795.0,158.5 795.4,155.2 795.9,151.1 796.3,149.8 796.8,149.3 797.2,146.2 797.7,146.2 798.1,144.4 798.6,143.4 799.0,139.0 799.5,139.9 799.9,139.0 800.4,142.6 800.8,146.2 801.3,151.8 801.7,157.0 802.2,160.1 802.6,162.4 803.1,161.4 803.5,160.6 804.0,163.3 804.4,166.0 804.9,172.3 805.3,176.8 805.8,179.3 806.2,182.2 806.7,177.7 807.1,175.0 807.6,170.8 808.0,166.0 808.5,166.4 808.9,167.8 809.4,163.6 809.8,160.6 810.3,155.3 810.7,148.0 811.2,140.6 811.6,133.6 812.1,127.1 812.5,121.0 813.0,119.6 813.4,117.4 813.9,118.5 814.3,121.0 814.8,120.8 815.2,119.2 815.7,120.5 816.1,122.8 816.6,125.0 817.0,126.4 817.5,127.6 817.9,130.0 818.4,129.2 818.8,128.2 819.3,132.0 819.7,135.4 820.2,138.4 820.6,142.6 821.1,140.3 821.5,139.0 822.0,135.7 822.4,130.0 822.9,131.8 823.3,133.6 823.8,139.8 824.2,144.4 824.7,150.3 825.1,157.0 825.6,162.9 826.0,171.4 826.5,178.1 826.9,182.2 827.4,186.5 827.8,189.4 828.3,192.4 828.7,194.8 829.2,197.9 829.6,200.2 830.1,195.7 830.5,191.2 831.0,182.4 831.4,175.0 831.9,168.3 832.3,162.4 832.8,157.8 833.2,153.4 833.7,150.4 834.1,148.0 834.6,145.7 835.0,142.6 835.5,140.4 835.9,139.0 836.4,135.5 836.8,133.6 837.3,130.8 837.7,130.0 838.2,128.7 838.6,126.4 839.1,126.8 839.5,124.6 840.0,123.8 840.4,122.8 840.9,121.5 841.3,121.0 841.8,120.7 842.2,119.2 842.7,120.9 843.1,124.6 843.6,127.0 844.0,130.0 844.5,132.5 844.9,133.6 845.4,136.2 845.8,139.0 846.3,140.4 846.7,142.6 847.2,141.0 847.6,139.0 848.1,142.1 848.5,144.4 849.0,143.4 849.4,140.8 849.9,137.7 850.3,137.2 850.8,139.1 851.2,142.6 851.7,145.2 852.1,148.0 852.6,146.9 853.0,146.2 853.5,150.4 853.9,151.6 854.4,152.7 854.8,153.4 855.3,153.2 855.7,155.2 856.2,155.9 856.6,157.0 857.1,160.0 857.5,162.4 858.0,165.5 858.4,167.8 858.9,165.6 859.3,162.4 859.8,164.2 860.2,164.2 860.7,164.3 861.1,164.2 861.6,167.3 862.2,167.2 862.7,169.6 863.2,168.7 863.6,168.7 864.1,170.3 864.5,171.4 865.0,170.9 865.4,170.5 865.9,172.6 866.3,172.3 866.8,170.5 867.2,169.6 867.7,165.9 868.1,160.6 868.6,153.3 869.0,146.2 869.5,138.5 869.9,132.7 870.4,136.1 870.8,139.0 871.3,141.7 871.7,144.4 872.2,143.6 872.6,142.6 873.1,144.8 873.5,146.2 874.0,137.2 874.8,148.0 875.5,164.2 876.2,184.0 876.9,175.0 877.6,160.6 878.4,146.2 879.1,135.4 879.8,122.8 880.5,128.2 881.2,117.4 882.0,106.6 882.7,92.2 883.4,95.8 883.9,100.2 884.3,103.0 884.8,106.7 885.2,110.2 885.7,118.4 886.1,128.2 886.6,133.9 887.0,139.0 887.5,140.3 887.9,140.8 888.4,146.0 888.8,151.6 889.3,161.3 889.7,169.6 890.2,164.8 890.6,160.6 891.1,161.3 891.5,162.4 892.0,156.4 892.4,151.6 892.9,146.1 893.3,142.6 893.8,139.7 894.2,137.2 894.7,139.1 895.1,139.0 895.6,138.8 896.0,137.2 896.5,139.9 896.9,144.4 897.4,149.5 897.8,155.2 898.3,162.7 898.7,167.8 899.2,174.9 899.6,182.2 900.1,189.2 900.5,196.6 901.0,193.6 901.4,191.2 901.9,185.0 902.3,178.6 902.8,177.6 903.2,176.8 903.7,173.2 904.1,169.6 904.6,165.8 905.0,160.6 905.5,158.8 905.9,157.0 906.4,156.2 906.8,155.2 907.3,158.3 907.7,160.6 908.2,162.8 908.6,167.8 909.1,166.7 909.5,166.0 910.0,169.5 910.4,175.0 910.9,182.4 911.3,189.4 911.8,192.7 912.2,194.8 912.7,190.1 913.1,185.8 913.6,182.6 914.0,178.6 914.5,176.4 914.9,175.0 915.4,174.7 915.8,171.4 916.3,167.9 916.7,164.2 917.2,158.9 917.6,153.4 918.1,147.9 918.5,142.6 919.0,139.5 919.4,137.2 919.9,139.0 920.3,137.2 920.8,135.6 921.2,135.4 921.7,134.4 922.1,133.6 922.6,130.1 923.0,126.4 923.5,124.0 923.9,121.0 924.4,118.5 924.8,115.6 925.3,115.4 925.7,114.7 926.2,114.9 926.6,114.7 927.1,113.9 927.5,113.8 928.0,114.9 928.4,114.7 928.9,118.2 929.3,121.0 929.8,125.7 930.2,131.8 930.7,136.6 931.1,142.6 931.6,147.4 932.0,151.6 932.5,155.7 932.9,160.6 933.4,164.7 933.8,169.6 934.3,176.8 934.7,182.2 935.2,181.1 935.6,180.4 936.1,178.5 936.5,176.8 937.0,175.7 937.4,173.2 937.9,170.2 938.3,171.4 938.8,166.9 939.2,162.4 939.7,159.3 940.1,155.2 940.6,150.8 941.0,146.2 941.5,149.2 941.9,149.8 942.4,152.4 942.8,155.2 943.3,150.5 943.7,146.2 944.2,149.2 944.6,153.4 945.1,155.7 945.5,157.0 946.0,158.3 946.4,162.4 946.9,164.9 947.3,167.8 947.8,171.7 948.2,178.6 948.7,179.3 949.1,180.4 949.6,176.0 950.0,169.6 950.5,166.2 950.9,162.4 951.4,161.4 951.8,160.6 952.3,163.4 952.7,169.6 953.2,159.9 953.6,149.8 954.1,148.1 954.5,142.6 955.0,139.2 955.4,135.4 955.9,134.8 956.3,133.6 956.8,136.0 957.2,139.0 957.7,141.3 958.1,146.2 958.6,142.9 959.0,139.0 959.5,139.7 959.9,139.0 960.4,144.4 960.8,149.8 961.3,152.4 961.7,157.0 962.2,161.8 962.6,166.0 963.1,171.6 963.5,175.0 964.0,182.8 964.4,187.6 964.9,188.1 965.3,189.4 965.8,185.5 966.2,182.2 966.7,181.7 967.1,180.4 967.6,181.6 968.2,184.1 968.7,185.0 969.2,190.1 969.6,195.8 970.1,201.2 970.5,204.8 971.0,198.7 971.4,192.2 971.9,190.2 972.3,188.6 972.8,186.2 973.2,185.0 973.7,183.4 974.1,179.6 974.6,175.7 975.0,170.6 975.5,164.5 975.9,158.0 976.4,149.6 976.8,141.8 977.3,135.3 977.7,129.2 978.2,128.4 978.6,127.4 979.1,126.1 979.5,125.6 980.0,124.9 980.4,121.1 980.9,123.1 981.3,125.6 981.8,132.8 982.6,145.4 983.3,149.0 984.0,147.2 984.7,154.4 985.4,159.8 986.2,158.0 986.9,161.6 987.6,163.4 988.1,164.3 988.5,165.2 989.0,167.5 989.4,170.6 989.9,177.2 990.3,183.2 990.8,190.0 991.2,197.6 991.7,203.6 992.1,210.2 992.6,215.9 993.0,221.0 993.5,222.2 993.9,224.6 994.4,223.7 994.8,222.8 995.3,220.8 995.7,219.2 996.2,215.7 996.6,212.0 997.1,206.9 997.5,204.8 998.0,201.9 998.4,197.6 998.9,196.6 999.3,194.0 999.8,194.0 1000.2,192.2 1000.7,190.1 1001.1,186.8 1001.6,184.3 1002.0,181.4 1002.5,179.6 1002.9,176.0 1003.4,171.3 1003.8,167.0 1004.3,160.4 1004.7,154.4 1005.2,149.2 1005.6,143.6 1006.1,142.0 1006.5,141.8 1007.0,143.8 1007.4,143.6 1007.9,140.9 1008.3,138.2 1008.8,131.2 1009.2,123.8 1009.7,131.0 1010.3,145.4 1011.0,149.0 1011.5,147.9 1011.9,145.4 1012.4,143.5 1012.8,141.8 1013.3,137.0 1013.7,131.0 1014.2,128.8 1014.6,127.4 1015.1,133.5 1015.5,138.2 1016.0,134.8 1016.4,131.0 1016.9,134.5 1017.3,140.0 1017.8,145.3 1018.2,149.0 1018.7,151.5 1019.1,152.6 1019.6,150.7 1020.0,150.8 1020.5,148.5 1020.9,147.2 1021.4,146.3 1021.8,145.4 1022.3,142.4 1022.7,140.0 1023.2,142.6 1023.6,145.4 1024.1,145.3 1024.5,147.2 1025.0,141.2 1025.4,134.6 1025.9,126.0 1026.3,118.4 1026.8,112.4 1027.2,105.8 1027.7,111.3 1028.1,114.8 1028.6,114.1 1029.0,111.2 1029.5,112.9 1029.9,113.0 1030.4,112.5 1030.8,111.2 1031.3,113.4 1031.7,116.6 1032.2,124.1 1032.6,131.0 1033.1,141.8 1033.5,154.4 1034.0,164.0 1034.4,174.2 1034.9,178.0 1035.3,185.0 1035.8,194.0 1036.6,185.0 1037.3,179.6 1038.0,174.2 1038.5,167.2 1038.9,159.8 1039.4,158.3 1039.8,156.2 1040.3,156.0 1040.7,156.2 1041.2,154.0 1041.6,152.6 1042.1,150.5 1042.5,147.2 1043.0,143.1 1043.4,138.2 1043.9,138.2 1044.3,140.0 1044.8,142.7 1045.2,143.6 1045.7,138.8 1046.1,134.0 1046.6,124.7 1047.0,116.0 1047.5,108.3 1047.9,101.6 1048.4,95.5 1048.8,89.9 1049.3,91.6 1049.7,94.4 1050.2,98.7 1050.6,101.6 1051.1,100.2 1051.5,99.8 1052.0,103.0 1052.4,103.4 1052.9,106.1 1053.3,108.8 1053.8,112.9 1054.2,116.0 1054.7,120.9 1055.1,126.8 1055.6,131.5 1056.0,137.6 1056.5,143.4 1056.9,148.4 1057.4,152.8 1057.8,157.4 1058.3,163.3 1058.7,166.4 1059.2,168.1 1059.6,170.0 1060.1,171.3 1060.5,171.8 1061.0,170.5 1061.4,170.0 1061.9,164.0 1062.3,159.2 1062.8,151.3 1063.2,144.8 1063.7,139.6 1064.1,134.0 1064.6,129.0 1065.0,125.0 1065.5,119.5 1065.9,116.0 1066.4,112.9 1066.8,109.7 1067.3,112.0 1067.7,114.2 1068.2,117.1 1068.6,123.2 1069.1,127.6 1069.5,134.0 1070.0,140.4 1070.4,148.4 1070.9,149.1 1071.3,152.0 1071.8,154.2 1072.2,155.6 1072.7,156.5 1073.1,157.4 1073.6,159.1 1074.0,159.2 1074.5,153.8 1074.9,148.4 1075.4,142.8 1075.8,137.6 1076.3,134.4 1076.7,130.4 1077.2,128.0 1077.6,125.9 1078.1,125.3 1078.5,125.0 1079.0,127.5 1079.4,126.8 1079.9,128.6 1080.3,128.6 1080.8,128.7 1081.2,130.4 1081.7,128.7 1082.1,126.8 1082.6,124.9 1083.0,125.0 1083.5,121.5 1083.9,121.4 1084.4,118.6 1084.8,116.0 1085.3,114.0 1085.7,110.6 1086.2,113.9 1086.6,119.6 1087.1,118.6 1087.5,117.8 1088.0,119.5 1088.4,119.6 1088.9,121.5 1089.3,121.4 1089.8,124.3 1090.2,125.0 1090.7,127.0 1091.1,128.6 1091.6,134.0 1092.0,137.6 1092.5,144.2 1092.9,150.2 1093.4,144.0 1093.8,137.6 1094.3,138.7 1094.7,143.0 1095.2,149.7 1095.6,155.6 1096.1,160.7 1096.5,166.4 1097.0,171.2 1097.4,177.2 1097.9,182.8 1098.3,188.0 1098.8,187.5 1099.2,186.2 1099.7,184.7 1100.1,180.8 1100.6,179.3 1101.0,177.2 1101.5,170.3 1101.9,164.6 1102.4,159.1 1102.8,152.0 1103.3,148.2 1103.7,143.0 1104.2,139.3 1104.6,134.0 1105.1,128.0 1105.5,121.4 1106.0,114.0 1106.4,107.0 1106.9,109.0 1107.3,108.8 1107.8,113.7 1108.2,116.0" fill="none" stroke="#2a5987" stroke-width="1.3" stroke-linejoin="round"/><line x1="644.4" y1="20.0" x2="644.4" y2="318.7" stroke="#a3a3a3" stroke-width="1.6"/><line x1="643.6" y1="317.9" x2="1115.8" y2="317.9" stroke="#9a9a9a" stroke-width="1.6"/><line x1="639.2" y1="309.50" x2="644.4" y2="309.50" stroke="#4a4a4a" stroke-width="1.15"/><text transform="translate(635.8,314.25) scale(0.985,1.09)" font-size="13" text-anchor="end" fill="#262626" stroke="#262626" stroke-width="0.15">0</text><line x1="639.2" y1="239.20" x2="644.4" y2="239.20" stroke="#4a4a4a" stroke-width="1.15"/><text transform="translate(635.8,243.95) scale(0.985,1.09)" font-size="13" text-anchor="end" fill="#262626" stroke="#262626" stroke-width="0.15">0.25</text><line x1="639.2" y1="168.90" x2="644.4" y2="168.90" stroke="#4a4a4a" stroke-width="1.15"/><text transform="translate(635.8,173.65) scale(0.985,1.09)" font-size="13" text-anchor="end" fill="#262626" stroke="#262626" stroke-width="0.15">0.5</text><line x1="639.2" y1="98.60" x2="644.4" y2="98.60" stroke="#4a4a4a" stroke-width="1.15"/><text transform="translate(635.8,103.35) scale(0.985,1.09)" font-size="13" text-anchor="end" fill="#262626" stroke="#262626" stroke-width="0.15">0.75</text><line x1="639.2" y1="28.30" x2="644.4" y2="28.30" stroke="#4a4a4a" stroke-width="1.15"/><text transform="translate(635.8,33.05) scale(0.985,1.09)" font-size="13" text-anchor="end" fill="#262626" stroke="#262626" stroke-width="0.15">1.0</text><line x1="652.80" y1="317.9" x2="652.80" y2="322.9" stroke="#444" stroke-width="1.1"/><text transform="translate(652.20,337.30) scale(0.965,1.09)" font-size="13" text-anchor="middle" fill="#262626" stroke="#262626" stroke-width="0.15">2008</text><line x1="707.18" y1="317.9" x2="707.18" y2="322.9" stroke="#444" stroke-width="1.1"/><text transform="translate(706.58,337.30) scale(0.965,1.09)" font-size="13" text-anchor="middle" fill="#262626" stroke="#262626" stroke-width="0.15">2010</text><line x1="761.56" y1="317.9" x2="761.56" y2="322.9" stroke="#444" stroke-width="1.1"/><text transform="translate(760.96,337.30) scale(0.965,1.09)" font-size="13" text-anchor="middle" fill="#262626" stroke="#262626" stroke-width="0.15">2012</text><line x1="815.94" y1="317.9" x2="815.94" y2="322.9" stroke="#444" stroke-width="1.1"/><text transform="translate(815.34,337.30) scale(0.965,1.09)" font-size="13" text-anchor="middle" fill="#262626" stroke="#262626" stroke-width="0.15">2014</text><line x1="870.32" y1="317.9" x2="870.32" y2="322.9" stroke="#444" stroke-width="1.1"/><text transform="translate(869.72,337.30) scale(0.965,1.09)" font-size="13" text-anchor="middle" fill="#262626" stroke="#262626" stroke-width="0.15">2016</text><line x1="924.70" y1="317.9" x2="924.70" y2="322.9" stroke="#444" stroke-width="1.1"/><text transform="translate(924.10,337.30) scale(0.965,1.09)" font-size="13" text-anchor="middle" fill="#262626" stroke="#262626" stroke-width="0.15">2018</text><line x1="979.08" y1="317.9" x2="979.08" y2="322.9" stroke="#444" stroke-width="1.1"/><text transform="translate(978.48,337.30) scale(0.965,1.09)" font-size="13" text-anchor="middle" fill="#262626" stroke="#262626" stroke-width="0.15">2020</text><line x1="1033.46" y1="317.9" x2="1033.46" y2="322.9" stroke="#444" stroke-width="1.1"/><text transform="translate(1032.86,337.30) scale(0.965,1.09)" font-size="13" text-anchor="middle" fill="#262626" stroke="#262626" stroke-width="0.15">2022</text><line x1="1087.84" y1="317.9" x2="1087.84" y2="322.9" stroke="#444" stroke-width="1.1"/><text transform="translate(1087.24,337.30) scale(0.965,1.09)" font-size="13" text-anchor="middle" fill="#262626" stroke="#262626" stroke-width="0.15">2024</text><text transform="translate(877.1,14.25) scale(1,1.06)" font-size="18.2" text-anchor="middle" fill="#141414" stroke="#141414" stroke-width="0.12">ILS: Natural Gas Futures vs UNG ETF (with Monte Carlo bands)</text><line x1="1126.1" y1="160.0" x2="1150.9" y2="160.0" stroke="#6d8cad" stroke-width="1.3"/><rect x="1126.5" y="172.4" width="24.0" height="11.2" fill="#dcdcdc" stroke="#c8c8c8" stroke-width="0.8"/><text transform="translate(1158.0,165.1) scale(1,1.1)" font-size="13" fill="#262626" stroke="#262626" stroke-width="0.15">ILS</text><text transform="translate(1158.0,182.5) scale(1,1.1)" font-size="13" fill="#262626" stroke="#262626" stroke-width="0.15">95% CI</text></g>
<g><line x1="368.5" y1="620.10" x2="833.3" y2="620.10" stroke="#eaeaea" stroke-width="1" stroke-dasharray="8 3.3" stroke-dashoffset="1.4"/><line x1="368.5" y1="549.90" x2="833.3" y2="549.90" stroke="#eaeaea" stroke-width="1" stroke-dasharray="8 3.3" stroke-dashoffset="1.4"/><line x1="368.5" y1="479.70" x2="833.3" y2="479.70" stroke="#eaeaea" stroke-width="1" stroke-dasharray="8 3.3" stroke-dashoffset="1.4"/><line x1="368.5" y1="409.50" x2="833.3" y2="409.50" stroke="#eaeaea" stroke-width="1" stroke-dasharray="8 3.3" stroke-dashoffset="1.4"/><line x1="422.76" y1="401.5" x2="422.76" y2="697.9" stroke="#eeeeee" stroke-width="1" stroke-dasharray="8.2 3.2" stroke-dashoffset="3.3"/><line x1="470.02" y1="401.5" x2="470.02" y2="697.9" stroke="#eeeeee" stroke-width="1" stroke-dasharray="8.2 3.2" stroke-dashoffset="3.3"/><line x1="517.28" y1="401.5" x2="517.28" y2="697.9" stroke="#eeeeee" stroke-width="1" stroke-dasharray="8.2 3.2" stroke-dashoffset="3.3"/><line x1="564.54" y1="401.5" x2="564.54" y2="697.9" stroke="#eeeeee" stroke-width="1" stroke-dasharray="8.2 3.2" stroke-dashoffset="3.3"/><line x1="611.80" y1="401.5" x2="611.80" y2="697.9" stroke="#eeeeee" stroke-width="1" stroke-dasharray="8.2 3.2" stroke-dashoffset="3.3"/><line x1="659.06" y1="401.5" x2="659.06" y2="697.9" stroke="#eeeeee" stroke-width="1" stroke-dasharray="8.2 3.2" stroke-dashoffset="3.3"/><line x1="706.32" y1="401.5" x2="706.32" y2="697.9" stroke="#eeeeee" stroke-width="1" stroke-dasharray="8.2 3.2" stroke-dashoffset="3.3"/><line x1="753.58" y1="401.5" x2="753.58" y2="697.9" stroke="#eeeeee" stroke-width="1" stroke-dasharray="8.2 3.2" stroke-dashoffset="3.3"/><line x1="800.84" y1="401.5" x2="800.84" y2="697.9" stroke="#eeeeee" stroke-width="1" stroke-dasharray="8.2 3.2" stroke-dashoffset="3.3"/><polygon points="445.3,559.3 449.1,547.1 452.2,531.8 455.2,513.5 458.3,498.3 461.3,489.1 464.4,498.3 467.4,518.1 470.5,536.4 471.6,542.5 475.0,545.8 478.3,544.2 481.6,539.2 485.8,530.8 490.0,520.0 491.6,518.8 495.0,526.6 498.3,523.3 501.6,506.6 504.9,494.4 507.2,492.8 510.5,503.3 513.8,517.7 517.1,523.3 521.6,518.8 525.5,515.5 531.1,512.2 536.1,508.3 540.0,515.5 544.4,525.5 546.6,528.8 551.0,523.3 555.5,528.8 558.6,546.8 561.3,559.4 563.1,564.8 565.8,550.4 568.5,532.4 571.2,510.8 573.9,492.8 577.5,483.9 580.2,492.0 582.9,502.8 585.6,522.0 589.2,532.0 591.0,532.4 593.7,518.0 596.4,497.0 600.0,480.3 603.6,488.4 607.2,492.0 609.9,488.4 612.6,481.2 615.3,472.0 618.0,463.2 620.7,452.4 623.4,439.8 625.2,438.0 627.9,452.4 630.6,474.0 634.2,508.0 636.9,521.6 639.6,525.2 642.3,518.0 645.0,503.6 647.7,491.0 650.4,483.8 652.0,484.0 657.4,488.4 662.8,495.0 665.5,527.0 668.2,545.0 670.9,563.0 672.7,575.6 675.4,554.0 678.1,532.4 680.8,516.2 682.6,506.4 686.2,492.0 688.9,479.4 691.6,465.0 694.3,458.7 697.0,465.0 699.7,479.4 702.4,495.0 706.0,498.0 708.7,500.0 713.2,523.4 716.8,528.8 720.4,534.2 724.0,537.8 726.7,539.6 729.4,536.0 732.1,532.4 734.8,530.6 737.5,531.5 740.2,530.6 742.9,527.0 745.6,525.2 748.3,536.0 751.0,546.8 755.2,559.8 757.9,543.6 759.7,538.2 762.4,549.0 765.1,567.0 767.8,581.4 770.5,570.6 773.2,549.0 775.9,531.0 777.7,525.6 780.4,534.6 783.1,543.6 785.8,532.8 788.5,518.4 791.2,508.5 793.9,513.0 796.6,527.4 799.3,543.6 802.0,549.0 804.7,540.0 807.4,531.0 809.2,529.2 811.9,536.4 814.6,543.6 817.3,547.2 818.2,549.0 818.2,561.6 817.3,563.4 814.6,561.6 811.9,563.4 809.2,552.6 807.4,554.4 804.7,563.4 802.0,570.6 799.3,567.0 796.6,549.0 793.9,531.0 791.2,523.8 788.5,538.2 785.8,554.4 783.1,559.8 780.4,554.4 777.7,545.4 775.9,554.4 773.2,579.6 770.5,603.0 767.8,613.8 765.1,599.4 762.4,579.6 759.7,563.4 757.9,570.6 755.2,588.6 751.0,586.4 748.3,572.0 745.6,550.4 742.9,546.8 740.2,552.2 737.5,554.0 734.8,552.2 732.1,554.0 729.4,557.6 726.7,562.1 724.0,557.6 720.4,552.2 716.8,545.0 713.2,539.6 708.7,518.0 706.0,521.0 702.4,519.0 699.7,502.8 697.0,484.8 694.3,477.6 691.6,486.6 688.9,501.0 686.2,511.8 682.6,528.0 680.8,536.0 678.1,559.4 675.4,590.0 672.7,604.4 670.9,600.8 668.2,586.4 665.5,568.4 662.8,540.0 657.4,510.0 652.0,510.0 650.4,507.2 647.7,518.0 645.0,536.0 642.3,548.6 639.6,546.8 636.9,543.2 634.2,545.0 630.6,501.0 627.9,474.0 625.2,456.0 623.4,459.6 620.7,474.0 618.0,481.2 615.3,490.0 612.6,502.8 609.9,513.6 607.2,522.0 603.6,513.6 600.0,506.4 596.4,525.0 593.7,545.0 591.0,559.4 589.2,556.0 585.6,545.0 582.9,528.0 580.2,515.4 577.5,506.4 573.9,521.6 571.2,539.6 568.5,559.4 565.8,581.0 563.1,594.5 561.3,593.6 558.6,581.0 555.5,562.0 551.0,556.5 546.6,564.3 544.4,558.7 540.0,547.6 536.1,540.0 531.1,545.4 525.5,543.2 521.6,545.4 517.1,536.6 513.8,528.8 510.5,521.0 507.2,514.4 504.9,517.7 501.6,532.1 498.3,545.4 495.0,542.1 491.6,532.1 490.0,540.8 485.8,551.7 481.6,561.7 478.3,565.0 475.0,567.5 471.6,565.8 470.5,559.3 467.4,545.5 464.4,525.7 461.3,507.4 458.3,518.1 455.2,537.9 452.2,556.2 449.1,574.5 445.3,583.7" fill="#dcdcdc" stroke="#cbcbcb" stroke-width="0.9"/><polyline points="445.3,499.1 446.1,499.8 446.9,510.5 447.6,509.0 448.4,515.1 449.1,519.6 449.9,516.6 450.4,514.3 450.9,513.3 451.4,512.0 451.9,508.8 452.4,506.5 453.0,504.4 453.5,500.3 454.0,494.9 454.5,490.7 455.2,495.2 456.0,492.2 456.8,496.8 457.5,489.1 458.3,486.1 459.1,495.2 459.8,502.9 460.3,505.0 460.8,508.5 461.3,510.5 461.8,515.9 462.4,521.0 462.9,525.7 463.4,532.1 463.9,538.0 464.4,544.0 465.0,552.7 465.6,559.3 466.1,569.1 466.7,576.0 467.4,565.4 468.0,559.9 468.7,554.7 469.2,558.8 469.7,565.4 470.5,556.2 471.1,550.9 471.7,544.0 472.2,548.2 472.8,551.6 473.3,556.5 473.8,562.3 474.5,556.6 475.1,551.6 475.6,550.7 476.1,548.8 476.7,552.2 477.2,554.3 477.8,556.3 478.3,558.7 478.9,560.1 479.4,562.1 480.0,555.8 480.5,547.6 481.1,542.5 481.7,536.6 482.2,534.8 482.8,534.3 483.3,533.3 483.9,532.1 484.4,523.3 485.0,517.7 485.5,522.2 486.1,523.2 486.6,523.3 487.2,523.1 487.7,523.3 488.3,520.9 488.9,518.8 489.4,518.2 490.0,517.7 490.5,523.3 491.1,532.1 491.6,536.7 492.2,539.9 492.7,546.6 493.3,554.3 493.8,557.0 494.4,558.7 495.0,558.1 495.5,559.8 496.1,553.7 496.6,547.6 497.2,538.0 497.7,528.8 498.3,520.7 498.8,512.2 499.4,498.9 499.9,497.0 500.5,494.4 501.1,491.9 501.6,488.9 502.1,483.5 502.7,490.0 503.3,492.8 503.8,491.1 504.4,496.9 504.9,501.1 505.5,504.6 506.0,512.2 506.6,516.9 507.2,523.3 507.7,528.4 508.3,532.1 508.8,531.6 509.4,535.5 509.9,535.9 510.5,537.7 511.0,537.2 511.6,536.6 512.1,534.8 512.7,534.3 513.2,530.2 513.8,526.6 514.2,524.2 514.7,524.4 515.5,528.8 516.2,536.6 516.7,537.6 517.1,538.8 517.6,539.9 518.0,543.2 518.8,528.8 519.6,522.2 520.0,527.8 520.5,534.3 521.0,539.4 521.6,546.5 522.1,536.4 522.7,528.8 523.2,516.3 523.8,504.4 524.4,512.2 525.0,521.0 525.5,533.3 526.1,545.4 526.7,547.2 527.2,548.8 527.8,532.0 528.3,514.4 528.9,525.6 529.4,536.6 530.2,547.6 530.6,530.4 531.1,512.2 531.5,510.3 532.0,508.8 532.7,503.3 533.5,518.8 534.0,526.7 534.4,534.3 534.9,537.2 535.3,541.0 536.1,532.1 536.6,539.2 537.2,545.4 538.0,555.4 538.4,554.3 538.8,553.2 539.4,546.1 540.0,542.1 540.5,541.0 541.1,537.7 541.5,546.9 542.0,556.5 542.7,547.6 543.3,540.8 543.8,534.3 544.4,539.7 544.9,545.4 545.5,540.9 546.1,537.7 546.6,528.5 547.2,517.7 547.7,522.2 548.3,526.6 548.8,529.5 549.4,532.1 549.9,535.9 550.5,538.8 551.0,547.2 551.6,554.3 552.2,566.5 552.7,561.2 553.3,555.4 553.8,555.6 554.4,554.3 554.9,558.6 555.5,562.1 556.0,565.3 556.6,569.8 557.1,575.0 557.7,579.2 558.2,590.0 558.6,600.8 559.1,605.9 559.5,611.6 560.0,611.8 560.4,613.4 560.9,607.2 561.3,600.8 561.8,587.4 562.2,575.6 562.7,564.3 563.3,553.1 563.8,542.8 564.3,531.0 564.9,523.1 565.5,517.7 566.0,516.8 566.6,516.6 567.1,522.5 567.7,528.8 568.2,522.2 568.8,516.6 569.3,514.1 569.9,508.8 570.5,503.7 571.2,495.6 571.7,487.7 572.1,479.4 572.6,470.3 573.0,461.4 573.5,458.5 573.9,456.0 574.4,462.8 574.8,466.8 575.3,477.3 575.7,488.4 576.2,497.4 576.6,506.4 577.1,520.8 577.5,536.0 578.0,542.0 578.4,545.0 578.9,550.7 579.3,555.8 579.8,547.2 580.2,539.6 580.7,537.4 581.1,536.0 581.6,526.1 582.0,518.0 582.5,514.9 582.9,510.8 583.4,513.6 583.8,516.2 584.3,521.4 584.7,527.0 585.2,532.8 585.6,539.6 586.1,548.2 586.5,561.2 587.0,563.7 587.4,566.6 587.9,571.0 588.3,577.4 588.8,573.6 589.2,572.0 589.7,564.4 590.1,554.0 590.6,543.3 591.0,532.4 591.5,521.0 591.9,510.8 592.4,501.2 592.8,492.0 593.3,485.4 593.7,477.6 594.2,472.0 594.6,466.8 595.1,464.8 595.5,459.6 596.0,457.9 596.4,456.0 596.9,460.1 597.3,463.2 597.8,471.6 598.2,481.2 598.7,491.1 599.1,499.2 599.6,510.9 600.0,518.0 600.5,521.7 600.9,525.2 601.4,535.7 601.8,545.0 602.3,545.4 602.7,548.6 603.2,542.8 603.6,536.0 604.1,528.3 604.5,521.6 605.0,517.1 605.4,510.8 605.9,494.8 606.3,477.6 606.8,471.7 607.2,466.8 607.7,465.1 608.1,462.3 608.6,463.3 609.0,463.2 609.5,463.7 609.9,465.0 610.4,468.4 610.8,474.0 611.3,480.2 611.7,484.8 612.2,486.0 612.6,486.6 613.1,484.9 613.5,483.0 614.0,478.5 614.4,474.0 614.9,471.3 615.3,466.8 615.8,462.4 616.2,461.4 616.7,455.0 617.1,448.8 617.6,442.5 618.0,436.2 618.5,431.9 618.9,427.2 619.4,424.3 619.8,421.8 620.3,421.3 620.7,420.0 621.2,428.6 621.6,438.0 622.1,445.5 622.5,452.4 623.0,458.1 623.4,463.2 623.9,468.9 624.3,474.0 624.8,482.3 625.2,492.0 625.7,509.8 626.1,527.0 626.6,535.5 627.0,543.2 627.5,547.5 627.9,550.4 628.4,554.5 628.8,559.4 629.3,554.8 629.7,552.2 630.2,544.4 630.6,536.0 631.1,530.3 631.5,523.4 632.0,518.8 632.4,514.4 632.9,509.5 633.3,507.2 633.8,508.8 634.2,509.0 634.7,512.7 635.1,518.0 635.6,526.2 636.0,536.0 636.5,546.7 636.9,557.6 637.4,565.1 637.8,573.8 638.3,568.2 638.7,563.0 639.2,555.8 639.6,546.8 640.1,539.2 640.5,532.4 641.0,525.8 641.4,518.0 641.9,500.4 642.3,483.0 642.8,477.0 643.2,470.4 643.7,467.7 644.1,463.2 644.6,463.0 645.0,465.0 645.5,468.5 645.9,474.0 646.4,474.9 646.8,477.6 647.3,481.2 647.7,481.2 648.2,487.0 648.6,492.0 649.1,497.2 649.5,502.8 650.0,504.2 650.4,508.2 650.9,509.1 651.3,510.0 652.0,508.2 652.5,510.6 652.9,511.8 653.4,508.2 653.8,504.6 654.3,502.8 654.7,501.0 655.2,499.3 655.6,497.4 656.1,495.8 656.5,493.8 657.0,495.4 657.4,495.6 657.9,493.2 658.3,492.0 658.8,493.7 659.2,493.8 659.7,490.9 660.1,486.6 660.6,489.0 661.0,492.0 661.5,498.7 661.9,504.6 662.4,511.9 662.8,518.0 663.3,527.1 663.7,536.0 664.2,544.8 664.6,554.0 665.1,562.7 665.5,572.0 666.0,582.0 666.4,590.0 666.9,599.6 667.3,608.0 667.8,611.9 668.2,617.9 668.7,613.0 669.1,608.0 669.6,604.3 670.0,600.8 670.5,599.2 670.9,599.0 671.4,595.1 671.8,590.0 672.3,582.2 672.7,575.6 673.2,567.1 673.6,559.4 674.1,550.2 674.5,541.4 675.0,539.7 675.4,537.8 675.9,529.2 676.3,521.6 676.8,514.1 677.2,507.2 677.7,496.6 678.1,486.6 678.6,488.3 679.0,488.4 679.5,495.3 679.9,502.8 680.4,511.3 680.8,518.0 681.3,521.2 681.7,523.4 682.2,526.7 682.6,528.8 683.1,527.2 683.5,525.2 684.0,520.9 684.4,518.0 684.9,513.2 685.3,507.2 685.8,487.0 686.2,470.4 686.7,465.7 687.1,459.6 687.6,453.7 688.0,450.6 688.5,448.6 688.9,447.0 689.4,451.2 689.8,456.0 690.3,454.2 690.7,456.0 691.2,456.7 691.6,457.8 692.1,461.3 692.5,463.2 693.0,468.9 693.4,474.0 693.9,480.3 694.3,486.6 694.8,493.3 695.2,499.2 695.7,504.9 696.1,510.8 696.6,517.3 697.0,523.4 697.5,528.9 697.9,534.2 698.4,532.1 698.8,528.8 699.3,524.9 699.7,518.0 700.2,512.8 700.6,507.2 701.1,501.9 701.5,495.6 702.0,491.1 702.4,486.6 702.9,487.1 703.3,488.4 703.8,490.2 704.2,492.0 704.7,492.7 705.1,493.8 705.6,495.9 706.0,501.0 706.5,513.1 706.9,523.4 707.4,530.3 707.8,536.0 708.3,541.6 708.7,546.8 709.2,546.6 709.6,548.6 710.1,547.6 710.5,546.8 711.0,542.8 711.4,536.0 711.9,532.9 712.3,530.6 712.8,526.0 713.2,521.6 713.7,518.0 714.1,514.4 714.6,515.6 715.0,516.2 715.5,522.5 715.9,530.6 716.4,538.9 716.8,545.0 717.3,553.6 717.7,559.4 718.2,563.8 718.6,568.4 719.1,567.0 719.5,564.8 720.0,563.3 720.4,561.2 720.9,557.4 721.3,554.0 721.8,549.2 722.2,543.2 722.7,537.7 723.1,532.4 723.6,533.7 724.0,534.2 724.5,541.3 724.9,546.8 725.4,553.2 725.8,557.6 726.3,556.2 726.7,555.8 727.2,555.0 727.6,554.0 728.1,554.0 728.5,555.8 729.0,553.0 729.4,550.4 729.9,538.2 730.3,527.0 730.8,526.4 731.2,525.2 731.7,521.5 732.1,519.8 732.6,517.5 733.0,518.0 733.5,522.2 733.9,525.2 734.4,532.8 734.8,541.4 735.3,551.8 735.7,559.4 736.2,563.9 736.6,566.6 737.1,562.9 737.5,559.4 738.0,556.5 738.4,554.0 738.9,548.2 739.3,543.2 739.8,538.1 740.2,532.4 740.7,521.2 741.1,510.8 741.6,505.6 742.0,501.8 742.5,505.2 742.9,509.0 743.4,517.9 743.8,527.0 744.3,535.2 744.7,545.0 745.2,553.6 745.6,563.0 746.1,571.5 746.5,579.2 747.0,584.5 747.4,593.6 747.9,596.6 748.3,600.8 748.8,597.9 749.2,593.6 749.7,588.5 750.1,582.8 750.6,581.0 751.0,579.2 751.5,571.1 751.9,564.8 752.4,557.7 752.9,548.3 753.4,540.0 753.9,530.9 754.3,522.0 754.8,524.2 755.2,527.4 755.7,533.4 756.1,538.2 756.6,540.3 757.0,541.8 757.5,544.3 757.9,547.2 758.4,551.8 758.8,558.0 759.3,567.7 759.7,577.8 760.2,588.1 760.6,599.4 761.1,605.5 761.5,613.8 762.0,611.5 762.4,606.6 762.9,608.7 763.3,610.2 763.8,617.8 764.2,624.6 764.7,618.9 765.1,612.0 765.6,603.9 766.0,595.8 766.5,587.7 766.9,579.6 767.4,574.2 767.8,568.8 768.3,559.9 768.7,552.6 769.2,544.8 769.6,538.2 770.1,532.8 770.5,527.4 771.0,524.3 771.4,518.4 771.9,516.3 772.3,513.0 772.8,511.0 773.2,509.4 773.7,512.4 774.1,513.0 774.6,519.4 775.0,527.4 775.5,534.4 775.9,541.8 776.4,550.2 776.8,558.0 777.3,564.3 777.7,570.6 778.2,575.2 778.6,581.4 779.1,578.5 779.5,574.2 780.0,568.4 780.4,561.6 780.9,552.8 781.3,545.4 781.8,538.5 782.2,531.0 782.7,523.2 783.1,516.6 783.6,510.3 784.0,504.0 784.5,502.6 784.9,498.6 785.4,498.6 785.8,496.8 786.3,500.4 786.7,502.2 787.2,505.5 787.6,507.6 788.1,508.9 788.5,513.0 789.0,515.8 789.4,518.4 789.9,522.7 790.3,525.6 790.8,528.6 791.2,529.2 791.7,531.5 792.1,531.0 792.6,533.9 793.0,538.2 793.5,543.7 793.9,549.0 794.4,552.3 794.8,556.2 795.3,557.7 795.7,563.4 796.2,568.0 796.6,570.6 797.1,576.1 797.5,581.4 798.0,583.4 798.4,586.8 798.9,579.6 799.3,572.4 799.8,564.0 800.2,556.2 800.7,548.7 801.1,541.8 801.6,539.1 802.0,534.6 802.5,533.9 802.9,532.8 803.4,534.8 803.8,536.4 804.3,536.6 804.7,538.2 805.2,539.5 805.6,541.8 806.1,544.6 806.5,545.4 807.0,547.0 807.4,549.0 807.9,550.8 808.3,552.6 808.8,554.6 809.2,556.2 809.7,558.9 810.1,563.4 810.6,566.8 811.0,570.6 811.5,567.1 811.9,563.4 812.4,557.0 812.8,549.0 813.3,542.9 813.7,536.4 814.2,532.5 814.6,527.4 815.1,525.2 815.5,523.8 816.0,525.2 816.4,525.6 816.9,527.4 817.3,531.0 817.8,538.5 818.2,547.2" fill="none" stroke="#2a5987" stroke-width="1.3" stroke-linejoin="round"/><line x1="367.5" y1="401.5" x2="367.5" y2="699.7" stroke="#8f8f8f" stroke-width="1.6"/><line x1="366.7" y1="698.9" x2="833.3" y2="698.9" stroke="#7a7a7a" stroke-width="1.6"/><line x1="362.3" y1="690.30" x2="367.5" y2="690.30" stroke="#4a4a4a" stroke-width="1.15"/><text transform="translate(358.9,695.05) scale(0.985,1.09)" font-size="13" text-anchor="end" fill="#262626" stroke="#262626" stroke-width="0.15">0</text><line x1="362.3" y1="620.10" x2="367.5" y2="620.10" stroke="#4a4a4a" stroke-width="1.15"/><text transform="translate(358.9,624.85) scale(0.985,1.09)" font-size="13" text-anchor="end" fill="#262626" stroke="#262626" stroke-width="0.15">0.25</text><line x1="362.3" y1="549.90" x2="367.5" y2="549.90" stroke="#4a4a4a" stroke-width="1.15"/><text transform="translate(358.9,554.65) scale(0.985,1.09)" font-size="13" text-anchor="end" fill="#262626" stroke="#262626" stroke-width="0.15">0.5</text><line x1="362.3" y1="479.70" x2="367.5" y2="479.70" stroke="#4a4a4a" stroke-width="1.15"/><text transform="translate(358.9,484.45) scale(0.985,1.09)" font-size="13" text-anchor="end" fill="#262626" stroke="#262626" stroke-width="0.15">0.75</text><line x1="362.3" y1="409.50" x2="367.5" y2="409.50" stroke="#4a4a4a" stroke-width="1.15"/><text transform="translate(358.9,414.25) scale(0.985,1.09)" font-size="13" text-anchor="end" fill="#262626" stroke="#262626" stroke-width="0.15">1.0</text><line x1="375.50" y1="698.9" x2="375.50" y2="703.9" stroke="#444" stroke-width="1.1"/><text transform="translate(374.90,718.30) scale(0.965,1.09)" font-size="13" text-anchor="middle" fill="#262626" stroke="#262626" stroke-width="0.15">2006</text><line x1="422.76" y1="698.9" x2="422.76" y2="703.9" stroke="#444" stroke-width="1.1"/><text transform="translate(422.16,718.30) scale(0.965,1.09)" font-size="13" text-anchor="middle" fill="#262626" stroke="#262626" stroke-width="0.15">2008</text><line x1="470.02" y1="698.9" x2="470.02" y2="703.9" stroke="#444" stroke-width="1.1"/><text transform="translate(469.42,718.30) scale(0.965,1.09)" font-size="13" text-anchor="middle" fill="#262626" stroke="#262626" stroke-width="0.15">2010</text><line x1="517.28" y1="698.9" x2="517.28" y2="703.9" stroke="#444" stroke-width="1.1"/><text transform="translate(516.68,718.30) scale(0.965,1.09)" font-size="13" text-anchor="middle" fill="#262626" stroke="#262626" stroke-width="0.15">2012</text><line x1="564.54" y1="698.9" x2="564.54" y2="703.9" stroke="#444" stroke-width="1.1"/><text transform="translate(563.94,718.30) scale(0.965,1.09)" font-size="13" text-anchor="middle" fill="#262626" stroke="#262626" stroke-width="0.15">2014</text><line x1="611.80" y1="698.9" x2="611.80" y2="703.9" stroke="#444" stroke-width="1.1"/><text transform="translate(611.20,718.30) scale(0.965,1.09)" font-size="13" text-anchor="middle" fill="#262626" stroke="#262626" stroke-width="0.15">2016</text><line x1="659.06" y1="698.9" x2="659.06" y2="703.9" stroke="#444" stroke-width="1.1"/><text transform="translate(658.46,718.30) scale(0.965,1.09)" font-size="13" text-anchor="middle" fill="#262626" stroke="#262626" stroke-width="0.15">2018</text><line x1="706.32" y1="698.9" x2="706.32" y2="703.9" stroke="#444" stroke-width="1.1"/><text transform="translate(705.72,718.30) scale(0.965,1.09)" font-size="13" text-anchor="middle" fill="#262626" stroke="#262626" stroke-width="0.15">2020</text><line x1="753.58" y1="698.9" x2="753.58" y2="703.9" stroke="#444" stroke-width="1.1"/><text transform="translate(752.98,718.30) scale(0.965,1.09)" font-size="13" text-anchor="middle" fill="#262626" stroke="#262626" stroke-width="0.15">2022</text><line x1="800.84" y1="698.9" x2="800.84" y2="703.9" stroke="#444" stroke-width="1.1"/><text transform="translate(800.24,718.30) scale(0.965,1.09)" font-size="13" text-anchor="middle" fill="#262626" stroke="#262626" stroke-width="0.15">2024</text><text transform="translate(597.1,395.45) scale(1,1.06)" font-size="18.2" text-anchor="middle" fill="#141414" stroke="#141414" stroke-width="0.12">ILS: Gasoline Futures vs UGA ETF (with Monte Carlo bands)</text><line x1="843.2" y1="540.8" x2="869.8" y2="540.8" stroke="#6d8cad" stroke-width="1.3"/><rect x="843.6" y="553.6" width="25.8" height="11.7" fill="#dcdcdc" stroke="#c8c8c8" stroke-width="0.8"/><text transform="translate(876.7,545.6) scale(1,1.1)" font-size="13" fill="#262626" stroke="#262626" stroke-width="0.15">ILS</text><text transform="translate(876.7,563.5) scale(1,1.1)" font-size="13" fill="#262626" stroke="#262626" stroke-width="0.15">95% CI</text></g>
</svg></body></html>
